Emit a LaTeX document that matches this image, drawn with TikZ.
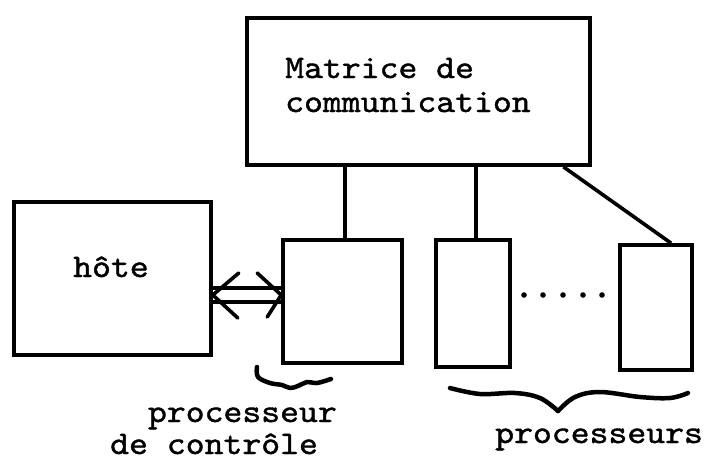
\documentclass[tikz,border=0pt]{standalone}
\usepackage{fontspec}
\setmonofont{lmmono10-regular.otf}[FakeStretch=1.09, FakeBold=1.2]
\usetikzlibrary{calc}
\tikzset{
  box/.style={draw, line width=3.6pt, inner sep=0pt},
  lbl/.style={font=\fontsize{33}{33}\selectfont\ttfamily, inner sep=0pt, anchor=base west},
  conn/.style={line width=3.6pt},
  hand/.style={line width=4.5pt, line cap=round, line join=round}
}
\begin{document}
\begin{tikzpicture}[x=1pt, y=-1pt]
\path[fill=white] (0,0) rectangle (708,460);
\useasboundingbox (0,0) rectangle (708,460);
% boxes
\node[box, minimum width=343pt, minimum height=147pt] (mat) at (418.5,91.5) {};
\node[box, minimum width=197pt, minimum height=153pt] (hote) at (112.5,278.5) {};
\node[box, minimum width=119pt, minimum height=123pt] (ctrl) at (342.5,301.5) {};
\node[box, minimum width=74pt, minimum height=127pt] (p1) at (473,303.5) {};
\node[box, minimum width=72pt, minimum height=125pt] (p2) at (656,307.5) {};
% texts
\node[lbl] (m1) at (285,78) {Matrice de};
\node[lbl] (m2) at (285,112) {communication};
\node[lbl] (ht) at (73,277) {hôte};
\node[lbl] (pc1) at (110,422) {\phantom{de}processeur};
\node[lbl] (pc2) at (110,454) {de contrôle};
\node[lbl] (ps) at (495,443) {processeurs};
% connectors to the matrix
\coordinate (c1) at ($(ctrl.north)+(2.5,0)$);
\draw[conn] (c1) -- (c1 |- mat.south);
\coordinate (c2) at ($(p1.north)+(3,0)$);
\draw[conn] (c2) -- (c2 |- mat.south);
\draw[conn] ($(mat.south west)!0.918!(mat.south east)$) -- ($(p2.north west)!0.7!(p2.north east)$);
% double arrow host <-> control
\coordinate (y295) at (0,295);
\coordinate (al) at (hote.east |- y295);
\coordinate (ar) at (ctrl.west |- y295);
\draw[conn] ([yshift=7pt]al) -- ([yshift=7pt]ar);
\draw[conn] ([yshift=-7pt]al) -- ([yshift=-7pt]ar);
\draw[conn, line cap=round, line join=round] ($(al)+(26,-22)$) -- (al) -- ($(al)+(25,23)$);
\draw[conn, line cap=round, line join=round] ($(ar)+(-24,-22)$) -- (ar) -- ($(ar)+(-14,22)$);
% dots
\foreach \x in {524,543,563,583,602} \fill (\x,295) circle[radius=2.8];
% squiggle under control processor
\draw[hand] plot[smooth, tension=0.6] coordinates {(257,367) (258,377) (270,383) (282,385) (290,388) (298,386) (307,382) (317,383) (331,379)};
% brace under processors
\draw[hand] plot[smooth, tension=0.6] coordinates {(450,388) (480,394) (515,393) (540,398) (558,411)};
\draw[hand] plot[smooth, tension=0.6] coordinates {(558,411) (575,397) (600,392) (640,397) (670,398) (688,393)};
\end{tikzpicture}
\end{document}
